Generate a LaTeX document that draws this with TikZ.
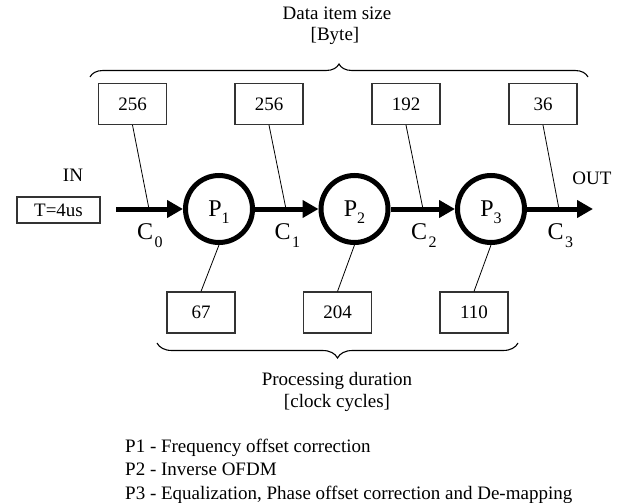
\documentclass[tikz,border=0pt]{standalone}
\usepackage{fontspec}
\setmainfont{Liberation Serif}
\usetikzlibrary{arrows.meta,decorations.pathreplacing}

\begin{document}
\begin{tikzpicture}[x=1pt,y=-1pt,
  txt/.style={inner sep=0pt, font=\fontsize{19}{23}\selectfont},
  basetxt/.style={txt, anchor=base},
  legendtxt/.style={txt, anchor=base west},
  valbox/.style={draw=black!80, line width=1.1pt, minimum width=68pt,
    minimum height=41pt, inner sep=0pt, font=\fontsize{19}{23}\selectfont},
  proc/.style={circle, draw, line width=5pt, minimum size=67pt, inner sep=0pt,
    text height=16pt, text depth=2pt, font=\fontsize{24}{28}\selectfont},
  flow/.style={line width=5pt, -{Triangle[length=16pt,width=17pt]}},
  leader/.style={line width=0.8pt},
  bracefig/.style={decorate, line width=1.1pt, decoration={brace, amplitude=#1}},
  chan/.style={anchor=base west, inner sep=0pt, font=\fontsize{24}{28}\selectfont},
]
\useasboundingbox (0,0) rectangle (633,503);

% titles and braces
\node[basetxt] (ttl1) at (337,20) {Data item size};
\node[basetxt] (ttl2) at (335,41) {[Byte]};
\draw[bracefig=13pt] (90,77) -- (588,77);

\node[basetxt] (btl1) at (337,385) {Processing duration};
\node[basetxt] (btl2) at (337,407) {[clock cycles]};
\draw[bracefig=15pt] (518,343) -- (157,343);

% data size boxes
\node[valbox] (s0) at (132.5,104) {256};
\node[valbox] (s1) at (269,104) {256};
\node[valbox] (s2) at (406,104) {192};
\node[valbox] (s3) at (543,104) {36};

% processing duration boxes
\node[valbox] (d1) at (201,312.5) {67};
\node[valbox] (d2) at (337.5,312.5) {204};
\node[valbox] (d3) at (474,312.5) {110};

% processes
\node[proc] (P1) at (219,209) {P\raisebox{-7pt}{\fontsize{16}{16}\selectfont 1}};
\node[proc] (P2) at (354.5,209) {P\raisebox{-7pt}{\fontsize{16}{16}\selectfont 2}};
\node[proc] (P3) at (491,209) {P\raisebox{-7pt}{\fontsize{16}{16}\selectfont 3}};

% channel points
\coordinate (inS) at (116,209);
\coordinate (outE) at (593,209);
\coordinate (t0) at (149,209);
\coordinate (t1) at (286,209);
\coordinate (t2) at (423,209);
\coordinate (t3) at (559,209);

% leaders
\draw[leader] (s0.south) -- (t0);
\draw[leader] (s1.south) -- (t1);
\draw[leader] (s2.south) -- (t2);
\draw[leader] (s3.south) -- (t3);
\draw[leader] (d1.north) -- (P1.south);
\draw[leader] (d2.north) -- (P2.south);
\draw[leader] (d3.north) -- (P3.south);

% data flow
\draw[flow] (inS) -- (P1);
\draw[flow] (P1) -- (P2);
\draw[flow] (P2) -- (P3);
\draw[flow] (P3) -- (outE);

% channel labels
\node[chan] (c0) at (137,240) {C\kern1.5pt\raisebox{-8pt}{\fontsize{16}{16}\selectfont 0}};
\node[chan] (c1) at (274.5,240) {C\kern1.5pt\raisebox{-8pt}{\fontsize{16}{16}\selectfont 1}};
\node[chan] (c2) at (411,240) {C\kern1.5pt\raisebox{-8pt}{\fontsize{16}{16}\selectfont 2}};
\node[chan] (c3) at (547.5,240) {C\kern1.5pt\raisebox{-8pt}{\fontsize{16}{16}\selectfont 3}};

% input and output
\node[basetxt] (inlab) at (73,182) {IN};
\node[draw=black!80, line width=1.1pt, minimum width=83pt, minimum height=26pt,
  inner sep=0pt, font=\fontsize{19}{23}\selectfont] (tbox) at (58.5,210) {T=4us};
\node[basetxt] (outlab) at (592,184) {OUT};

% legend
\node[legendtxt] (l1) at (125,452) {P1 - Frequency offset correction};
\node[legendtxt] (l2) at (125,475) {P2 - Inverse OFDM};
\node[legendtxt] (l3) at (125,499) {P3 - Equalization, Phase offset correction and De-mapping};
\end{tikzpicture}
\end{document}
